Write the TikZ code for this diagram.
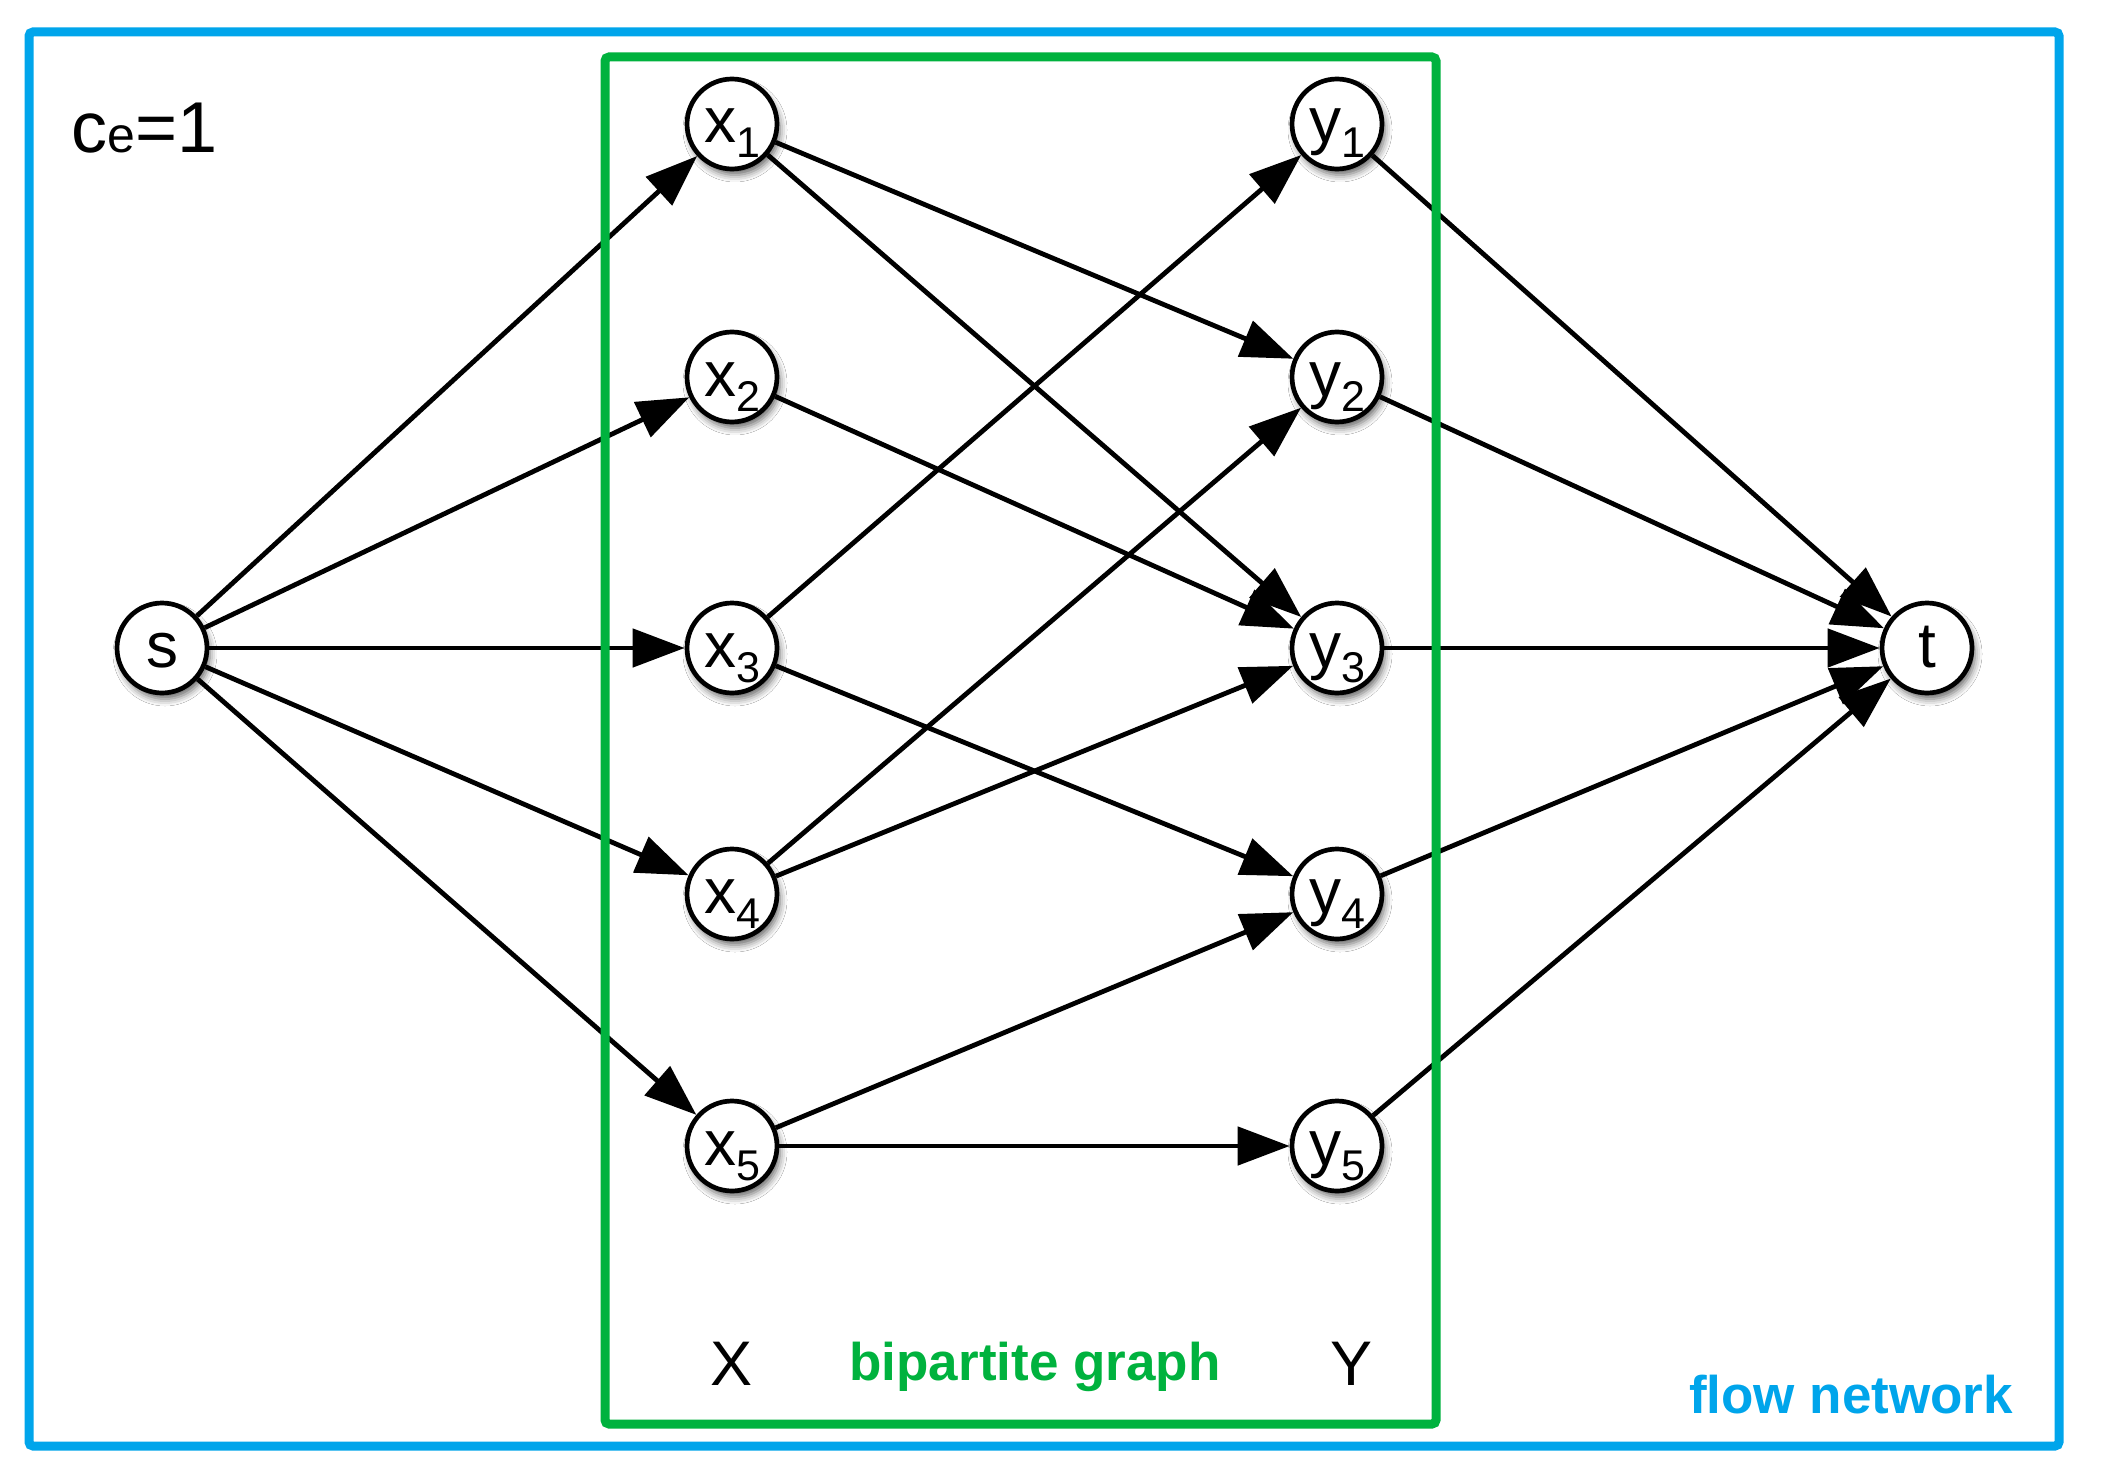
\documentclass[tikz,border=0pt]{standalone}
\usepackage{fontspec}
\setmainfont{Liberation Sans}
\usetikzlibrary{arrows.meta,shadows.blur}
\definecolor{fnblue}{RGB}{0,165,235}
\definecolor{bpgreen}{RGB}{0,178,62}
\newcommand{\nlab}[2]{#1{\fontsize{43pt}{43pt}\selectfont\raisebox{-15pt}{#2}}}
\begin{document}
\begin{tikzpicture}[x=1pt,y=-1pt,
  vert/.style={circle, draw=black, line width=4.7pt, fill=white, minimum size=90pt,
    inner sep=0pt, text height=38pt, text depth=0pt,
    font=\fontsize{64pt}{64pt}\selectfont,
    blur shadow={shadow xshift=3pt, shadow yshift=-6pt, shadow blur radius=7pt, shadow opacity=60}},
  edge/.style={line width=4.8pt, -{Triangle[length=52pt,width=38pt]}},
  frame/.style={line width=9pt, rounded corners=4pt}]
\useasboundingbox (0,0) rectangle (2102,1474);
\fill[white] (0,0) rectangle (2102,1474);

\node[vert] (s) at (162,648) {s};
\node[vert] (x1) at (732,124) {\nlab{x}{1}};
\node[vert] (x2) at (732,377) {\nlab{x}{2}};
\node[vert] (x3) at (732,648) {\nlab{x}{3}};
\node[vert] (x4) at (732,894) {\nlab{x}{4}};
\node[vert] (x5) at (732,1146) {\nlab{x}{5}};
\node[vert] (y1) at (1337,124) {\nlab{y}{1}};
\node[vert] (y2) at (1337,377) {\nlab{y}{2}};
\node[vert] (y3) at (1337,648) {\nlab{y}{3}};
\node[vert] (y4) at (1337,894) {\nlab{y}{4}};
\node[vert] (y5) at (1337,1146) {\nlab{y}{5}};
\node[vert] (t) at (1927,648) {t};

\foreach \i in {1,...,5} {\draw[edge] (s) -- (x\i);}
\foreach \i in {1,...,5} {\draw[edge] (y\i) -- (t);}
\draw[edge] (x1) -- (y2);
\draw[edge] (x1) -- (y3);
\draw[edge] (x2) -- (y3);
\draw[edge] (x3) -- (y1);
\draw[edge] (x3) -- (y4);
\draw[edge] (x4) -- (y2);
\draw[edge] (x4) -- (y3);
\draw[edge] (x5) -- (y4);
\draw[edge] (x5) -- (y5);

\draw[frame, fnblue] (29,32) rectangle (2059,1446);
\draw[frame, bpgreen] (605,57) rectangle (1436,1424);

\node[anchor=base west, inner sep=0pt, font=\fontsize{72pt}{72pt}\selectfont] (ce) at (71,153) {c{\fontsize{50pt}{50pt}\selectfont e}=1};
\node[anchor=base, inner sep=0pt, font=\fontsize{63pt}{63pt}\selectfont] (X) at (732,1385) {X};
\node[anchor=base, inner sep=0pt, font=\fontsize{63pt}{63pt}\selectfont] (Y) at (1351,1385) {Y};
\node[anchor=base, inner sep=0pt, text=bpgreen, font=\fontsize{53pt}{53pt}\selectfont\bfseries] (bg) at (1035,1380) {bipartite graph};
\node[anchor=base, inner sep=0pt, text=fnblue, font=\fontsize{53pt}{53pt}\selectfont\bfseries] (fn) at (1851,1413) {flow network};
\end{tikzpicture}
\end{document}
